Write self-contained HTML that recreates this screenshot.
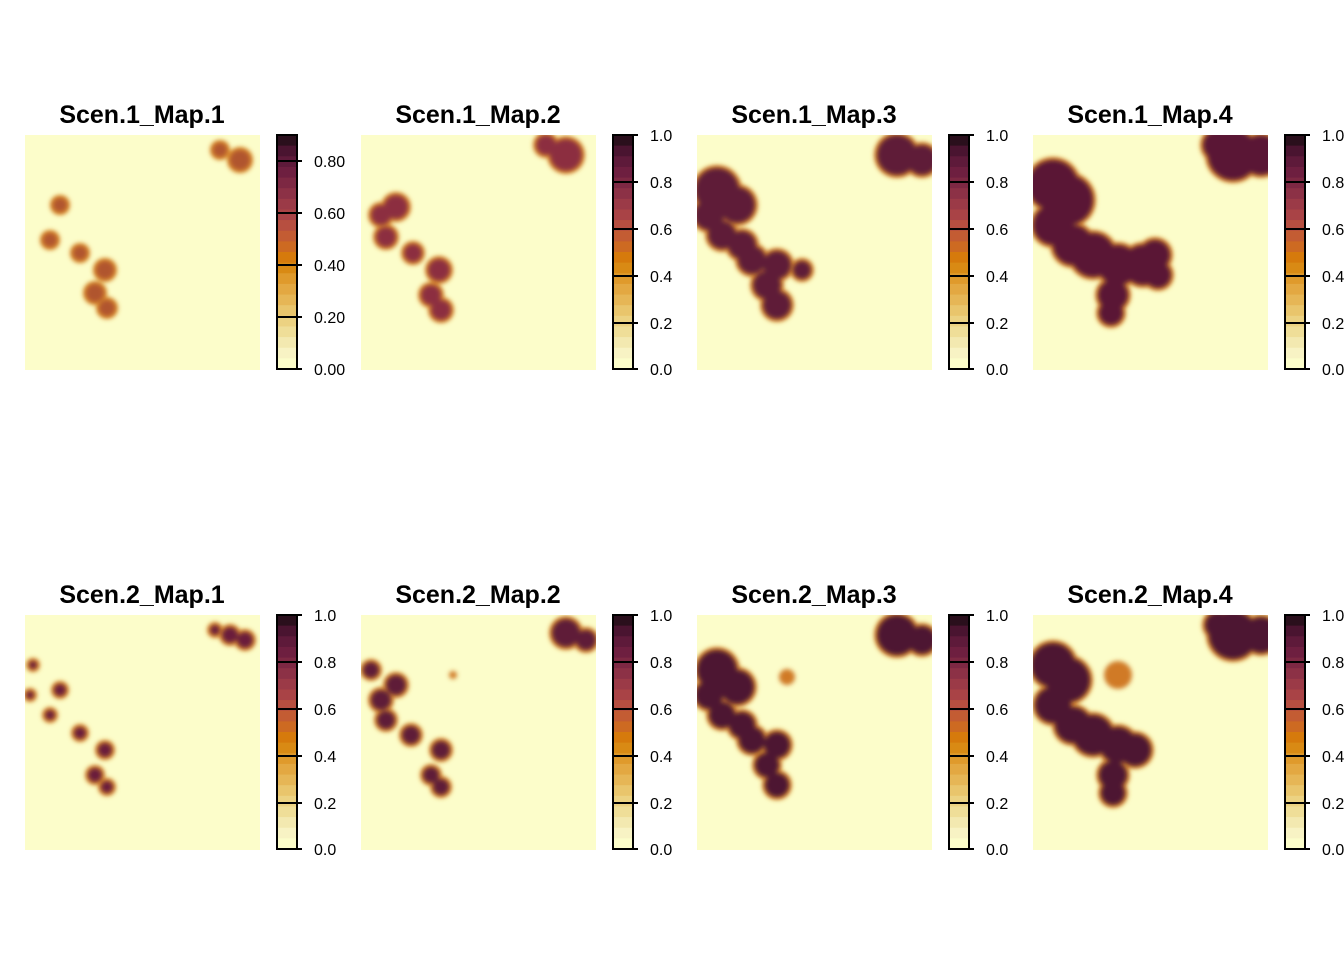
<!DOCTYPE html>
<html><head><meta charset="utf-8"><style>
body{margin:0;background:#fff;width:1344px;height:960px;overflow:hidden}
svg{display:block}
text{font-family:"Liberation Sans",Arial,sans-serif}
</style></head><body>
<svg id="s" width="1344" height="960" xmlns="http://www.w3.org/2000/svg">
<defs>
<filter id="b" x="-20%" y="-20%" width="140%" height="140%"><feGaussianBlur stdDeviation="2.5"/></filter>
<clipPath id="c"><rect x="0" y="0" width="235" height="235"/></clipPath>
</defs>
</svg>
<script>
const s=document.getElementById('s');
const ns='http://www.w3.org/2000/svg';
const cols=['#2a0f1c','#4a1430','#5e1a3a','#6e1f40','#7d2843','#8c3146','#9b3a47','#a94346','#b74f40','#c35c33','#cd6a22','#d67a0c','#d98a14','#df9a2c','#e3a842','#e6b656','#e9c56c','#ecd282','#efde98','#f3e9b0','#f8f3c4','#fcfdca'];
const panels=[
 {t:'Scen.1_Map.1',lab:['0.80','0.60','0.40','0.20','0.00'],c:'#b0552e',b:[[215,25,10],[195,15,7],[35,70,7],[25,105,7],[55,118,7],[80,135,9],[70,158,9],[82,173,8]]},
 {t:'Scen.1_Map.2',b:[[205,20,16],[185,10,10],[35,72,12],[20,80,10],[25,102,10],[52,118,9],[78,135,11],[70,160,10],[80,175,10]],c:'#8c2e40'},
 {t:'Scen.1_Map.3',b:[[200,20,20],[225,25,15],[20,55,22],[40,70,18],[12,80,15],[25,100,14],[45,110,14],[55,125,14],[80,130,14],[70,150,14],[80,170,14],[105,135,9]],c:'#5e1a38'},
 {t:'Scen.1_Map.4',b:[[200,20,25],[228,20,20],[185,10,15],[20,50,25],[35,65,25],[20,90,20],[40,110,20],[60,120,22],[85,130,20],[110,130,20],[122,120,15],[80,160,15],[78,178,12],[125,140,13]],c:'#5a1836'},
 {t:'Scen.2_Map.1',b:[[205,20,8],[220,25,8],[190,15,5],[35,75,6],[25,100,5],[55,118,6],[80,135,7],[70,160,7],[82,172,6],[8,50,4],[5,80,4]],c:'#6a1f3a'},
 {t:'Scen.2_Map.2',b:[[205,18,14],[225,25,10],[10,55,8],[35,70,10],[20,85,10],[25,105,9],[50,120,9],[80,135,9],[70,160,8],[80,172,8]],c:'#5e1a38',o:[[92,60,4]]},
 {t:'Scen.2_Map.3',b:[[200,20,20],[225,25,14],[20,55,20],[40,72,17],[12,80,14],[25,100,13],[45,110,13],[55,125,13],[80,130,13],[70,150,12],[80,170,12]],c:'#4e1632',o:[[90,62,8]]},
 {t:'Scen.2_Map.4',b:[[200,20,24],[228,20,18],[185,10,13],[20,50,22],[35,65,22],[20,90,18],[40,110,18],[60,120,20],[85,130,18],[102,135,16],[80,160,14],[80,178,12]],c:'#4e1632',o:[[85,60,14]]}
];
function el(t,a,p){const e=document.createElementNS(ns,t);for(const k in a)e.setAttribute(k,a[k]);(p||s).appendChild(e);return e;}
panels.forEach((p,i)=>{
 const col=i%4,row=Math.floor(i/4);
 const x0=25+col*336,y0=135+row*480;
 const g=el('g',{transform:`translate(${x0},${y0})`});
 el('rect',{x:0,y:0,width:235,height:235,fill:'#fcfdca'},g);
 const gc=el('g',{'clip-path':'url(#c)'},g);
 const halo=el('g',{filter:'url(#b)'},gc);
 p.b.forEach(b=>el('circle',{cx:b[0],cy:b[1],r:b[2]+3,fill:'#d98a2a'},halo));
 (p.o||[]).forEach(b=>el('circle',{cx:b[0],cy:b[1],r:b[2],fill:'#d07a28'},halo));
 const core=el('g',{filter:'url(#b)'},gc);
 p.b.forEach(b=>el('circle',{cx:b[0],cy:b[1],r:b[2],fill:p.c},core));
 el('text',{x:117,y:-12,'text-anchor':'middle','font-size':'25','font-weight':'bold',fill:'#000'},g).textContent=p.t;
 const h=234/22;
 cols.forEach((c,k)=>el('rect',{x:252,y:k*h,width:20,height:h+0.6,fill:c},g));
 el('rect',{x:252,y:0,width:20,height:234,fill:'none',stroke:'#000','stroke-width':2},g);
 let labs,ps;
 if(p.lab){labs=p.lab;ps=[234*(1-0.8/0.9),234*(1-0.6/0.9),234*(1-0.4/0.9),234*(1-0.2/0.9),234];}
 else{labs=['1.0','0.8','0.6','0.4','0.2','0.0'];ps=[0,47,94,141,188,234];}
 labs.forEach((l,k)=>{
  el('line',{x1:252,x2:277,y1:ps[k],y2:ps[k],stroke:'#000','stroke-width':2},g);
  el('text',{x:289,y:ps[k]+6,'font-size':'16',fill:'#000'},g).textContent=l;
 });
});
</script>
</body></html>
